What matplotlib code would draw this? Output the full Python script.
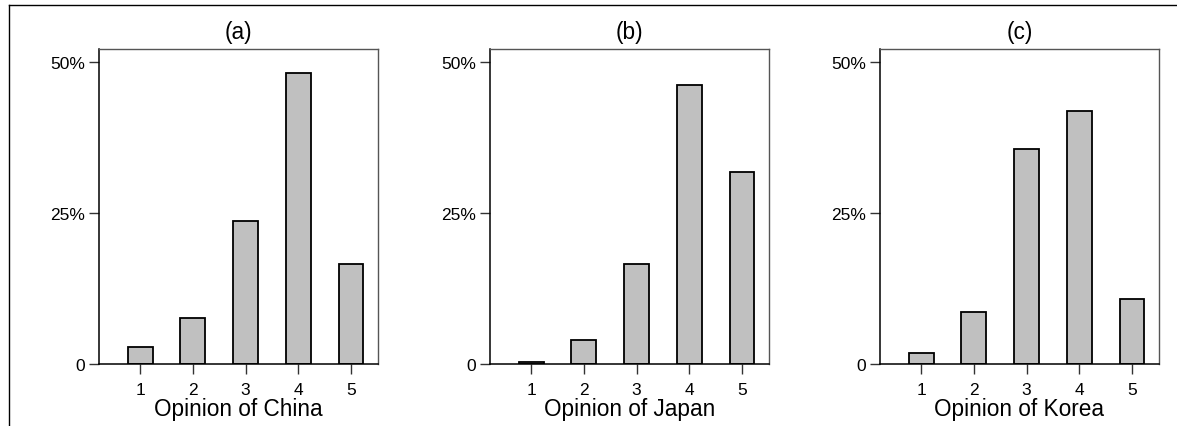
import matplotlib
matplotlib.use("Agg")
import matplotlib.pyplot as plt
from matplotlib.lines import Line2D

plt.rcParams['font.family'] = ['Liberation Sans', 'DejaVu Sans']

# opinion scale and share of respondents (%)
opinions = [1, 2, 3, 4, 5]
china = [2.9, 7.6, 23.7, 48.2, 16.5]
japan = [0.3, 3.9, 16.6, 46.2, 31.9]
korea = [1.8, 8.6, 35.6, 42.0, 10.8]

panels = [("(a)", "Opinion of China", china),
          ("(b)", "Opinion of Japan", japan),
          ("(c)", "Opinion of Korea", korea)]

ytick_vals = [0, 25, 50]
ytick_labels = ["0", "25%", "50%"]

fig = plt.figure(figsize=(11.77, 4.27), dpi=100)

lefts = [99, 490, 880]
W, H = 1177.0, 427.0
for left, (title, xlabel, vals) in zip(lefts, panels):
    ax = fig.add_axes([left / W, 1 - 365 / H, 279 / W, 315 / H])
    ax.bar(opinions, vals, width=0.47, color='#c0c0c0',
           edgecolor='black', linewidth=1.3)
    ax.set_xlim(0.22, 5.51)
    ax.set_ylim(0, 52.2)
    ax.set_xticks(opinions)
    ax.set_yticks(ytick_vals)
    ax.set_yticklabels(ytick_labels)
    ax.tick_params(axis='both', labelsize=12.5, length=7, width=1,
                   color='#333333')
    ax.tick_params(axis='x', pad=6)
    ax.tick_params(axis='y', pad=3)
    ax.set_title(title, fontsize=16.3, pad=8)
    ax.set_xlabel(xlabel, fontsize=16.3, labelpad=0)
    for s in ['top', 'right']:
        ax.spines[s].set_color('#555555')
        ax.spines[s].set_linewidth(1)
    for s in ['left', 'bottom']:
        ax.spines[s].set_color('black')
        ax.spines[s].set_linewidth(1.1)

# outer frame lines (top and left)
fig.add_artist(Line2D([9 / W, 1.0], [1 - 6 / H, 1 - 6 / H], color='black', lw=1))
fig.add_artist(Line2D([9 / W, 9 / W], [0, 1 - 6 / H], color='black', lw=1))

fig.savefig("out.png", dpi=100)
